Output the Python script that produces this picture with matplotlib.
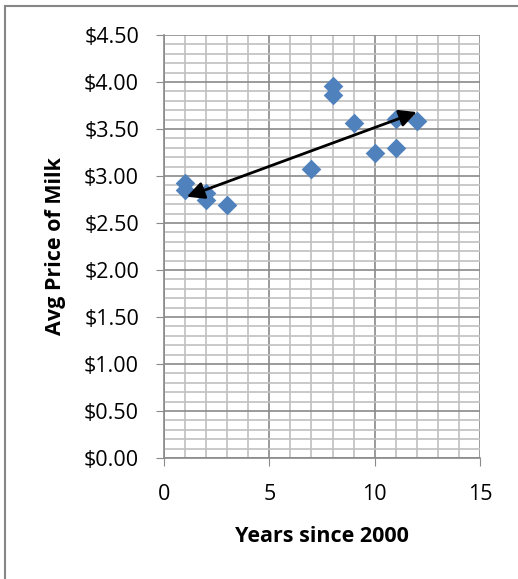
import matplotlib.pyplot as plt
from matplotlib.lines import Line2D
from matplotlib.ticker import MultipleLocator, FuncFormatter

# Data
years  = [1, 1, 2, 2, 3, 7, 8, 8, 9, 10, 11, 11, 12]
prices = [2.93, 2.85, 2.82, 2.74, 2.69, 3.07, 3.96, 3.86, 3.56, 3.24, 3.61, 3.30, 3.58]
arrow_start = (1.08, 2.78)
arrow_end   = (12.0, 3.68)

plt.rcParams["font.family"] = ["Open Sans", "DejaVu Sans"]

fig = plt.figure(figsize=(5.18, 5.79), dpi=100)
ax = fig.add_axes([164/518, 1 - 458/579, 316/518, 423/579])

# outer frame: only left and top edges are inside the picture
fx, fy = 4.5/518, 1 - 5.5/579
fig.lines.append(Line2D([fx, fx], [0, fy], transform=fig.transFigure,
                        color="#868686", linewidth=1.5))
fig.lines.append(Line2D([fx, 1], [fy, fy], transform=fig.transFigure,
                        color="#868686", linewidth=1.5))

ax.set_xlim(0, 15)
ax.set_ylim(0, 4.5)
ax.xaxis.set_major_locator(MultipleLocator(5))
ax.xaxis.set_minor_locator(MultipleLocator(1))
ax.yaxis.set_major_locator(MultipleLocator(0.5))
ax.yaxis.set_minor_locator(MultipleLocator(0.1))
ax.yaxis.set_major_formatter(FuncFormatter(lambda v, p: f"${v:.2f}"))

ax.grid(which="major", color="#8a8a8a", linewidth=1.2)
ax.grid(which="minor", color="#c0c0c0", linewidth=1.2)
ax.set_axisbelow(True)

for s in ["top", "right"]:
    ax.spines[s].set_visible(False)
for s in ["left", "bottom"]:
    ax.spines[s].set_color("#8a8a8a")
    ax.spines[s].set_linewidth(1.2)

ax.tick_params(which="major", length=6, color="#8a8a8a", labelsize=15.5,
               labelcolor="black")
ax.tick_params(which="minor", length=0)
ax.tick_params(axis="y", pad=12)
ax.tick_params(axis="x", pad=13)

ax.scatter(years, prices, marker="D", s=100, color="#4f81bd", zorder=3,
           linewidths=0)

ax.annotate("", xy=arrow_end, xytext=arrow_start,
            arrowprops=dict(arrowstyle="<|-|>", color="black", lw=2,
                            mutation_scale=26, shrinkA=0, shrinkB=0),
            zorder=4)

ax.set_xlabel("Years since 2000", fontsize=15.5, fontweight="bold", labelpad=15)
ax.set_ylabel("Avg Price of Milk", fontsize=15.5, fontweight="bold", labelpad=13)

fig.savefig("out.png", dpi=100)
